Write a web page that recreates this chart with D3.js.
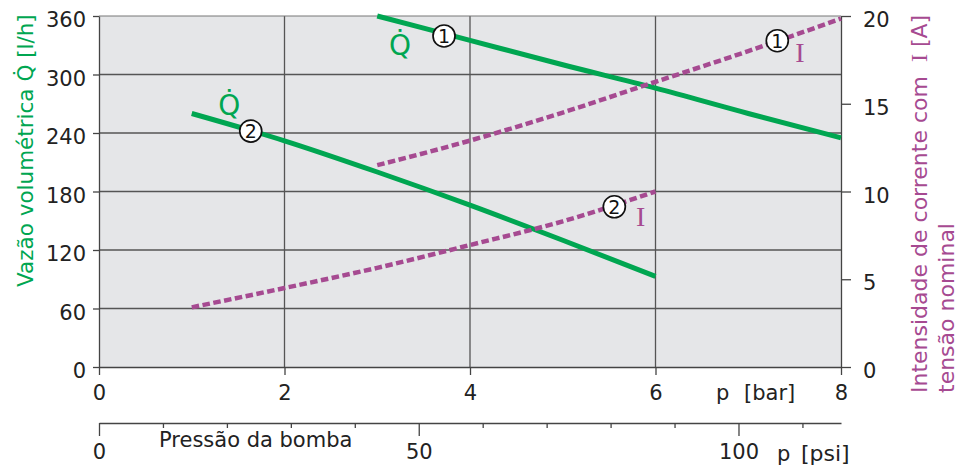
<!DOCTYPE html>
<html><head><meta charset="utf-8">
<script src="https://cdn.jsdelivr.net/npm/d3@7"></script>
<style>
html,body{margin:0;padding:0;background:#fff;}
svg{display:block;font-family:"DejaVu Sans",Verdana,sans-serif;}
</style></head>
<body>
<svg id="c" width="968" height="468"></svg>
<script>
// ---- data ----
const pQ1 = [3, 4, 5, 6, 7, 8];
const valQ1 = [360, 335, 310, 286, 260, 235];
const pQ2 = [1, 2, 3, 4, 5, 6];
const valQ2 = [260, 232, 200, 166, 130, 93];
const pI1 = [3, 4, 5, 6, 7, 8];
const valI1 = [11.5, 12.9, 14.5, 16.25, 18.0, 19.85];
const pI2 = [1, 2, 3, 4, 5, 6];
const valI2 = [3.4, 4.5, 5.65, 6.95, 8.3, 10.0];
const barTicks = [0, 2, 4, 6, 8];
const qTicks = [0, 60, 120, 180, 240, 300, 360];
const iTicks = [0, 5, 10, 15, 20];
const psiMajor = [0, 50, 100];
const psiMinor = [10, 20, 30, 40, 60, 70, 80, 90, 110];
const BAR_TO_PSI = 14.5038;

const GREEN = "#00a651", PURPLE = "#a64a91", GRID = "#555", AXIS = "#444";
const FS = 21;
const FF = "'DejaVu Sans', Verdana, sans-serif";

const svg = d3.select("#c");
const L = 99, R = 841, T = 16, B = 367;
const x = d3.scaleLinear().domain([0, 8]).range([L, R]);
const yQ = d3.scaleLinear().domain([0, 360]).range([B, T]);
const yI = d3.scaleLinear().domain([0, 20]).range([B, T]);
const xPsi = d3.scaleLinear().domain([0, 8 * BAR_TO_PSI]).range([L, R]);

// plot background
svg.append("rect").attr("x", L).attr("y", T).attr("width", R - L).attr("height", B - T).attr("fill", "#e5e6e8");

// grid
const g = svg.append("g");
g.selectAll("line.v").data(barTicks.filter(d => d > 0 && d < 8)).join("line")
  .attr("x1", d => x(d)).attr("x2", d => x(d)).attr("y1", T).attr("y2", B)
  .attr("stroke", GRID).attr("stroke-width", 1.3);
g.selectAll("line.h").data(qTicks.filter(d => d > 0 && d < 360)).join("line")
  .attr("x1", L).attr("x2", R).attr("y1", d => yQ(d)).attr("y2", d => yQ(d))
  .attr("stroke", GRID).attr("stroke-width", 1.3);
// top border
svg.append("line").attr("x1", L).attr("x2", R).attr("y1", T).attr("y2", T).attr("stroke", "#777").attr("stroke-width", 1);

function styleAxis(sel) {
  sel.attr("font-family", FF);
  sel.selectAll("path,line").attr("stroke", AXIS).attr("stroke-width", 1.3);
  sel.selectAll("text").attr("fill", "#222").attr("font-size", FS).attr("font-family", FF);
}

// left axis
const ax1 = svg.append("g").attr("transform", `translate(${L},0)`)
  .call(d3.axisLeft(yQ).tickValues(qTicks).tickSize(6).tickSizeOuter(0).tickPadding(7));
styleAxis(ax1); ax1.selectAll("text").attr("dy", "0.5em");

// right axis
const ax2 = svg.append("g").attr("transform", `translate(${R},0)`)
  .call(d3.axisRight(yI).tickValues(iTicks).tickSize(10).tickSizeOuter(0).tickPadding(12));
styleAxis(ax2); ax2.selectAll("text").attr("dy", "0.5em");

// bottom axis (bar)
const ax3 = svg.append("g").attr("transform", `translate(0,${B})`)
  .call(d3.axisBottom(x).tickValues(barTicks).tickSize(8).tickSizeOuter(0).tickPadding(10));
styleAxis(ax3);

// psi axis
const PSY = 423;
const ax4 = svg.append("g").attr("transform", `translate(0,${PSY})`)
  .call(d3.axisBottom(xPsi).tickValues(psiMajor).tickSize(13).tickSizeOuter(0).tickPadding(8));
styleAxis(ax4);
const ax5 = svg.append("g").attr("transform", `translate(0,${PSY})`)
  .call(d3.axisBottom(xPsi).tickValues(psiMinor).tickSize(5).tickFormat(""));
styleAxis(ax5); ax5.select("path").remove();

// axis unit labels
function txt(s, px, py, opts = {}) {
  return svg.append("text").attr("x", px).attr("y", py).text(s)
    .attr("font-size", opts.fs || FS).attr("fill", opts.fill || "#222")
    .attr("text-anchor", opts.anchor || "start")
    .attr("font-family", opts.ff || FF);
}
txt("p", 716, 400); txt("[bar]", 744, 400);
txt("p", 777, 461); txt("[psi]", 801, 461, { fs: 22 });
txt("Pressão da bomba", 159, 447);

// rotated axis titles
svg.append("text").attr("transform", "translate(33,287) rotate(-90)")
  .attr("font-size", 21.5).attr("font-family", FF).attr("fill", GREEN).text("Vazão volumétrica Q\u0307 [l/h]");
const rt = svg.append("text").attr("transform", "translate(927,393) rotate(-90)")
  .attr("font-size", 22).attr("font-family", FF).attr("fill", PURPLE).attr("style", "white-space:pre");
rt.append("tspan").text("Intensidade de corrente com  ");
rt.append("tspan").attr("font-family", "'Liberation Serif', 'DejaVu Serif', serif").attr("font-size", 24).text("I");
rt.append("tspan").text(" [A]");
svg.append("text").attr("transform", "translate(954,393) rotate(-90)")
  .attr("font-size", 22).attr("font-family", FF).attr("fill", PURPLE).text("tensão nominal");

// curves
const lineQ = (px, vals) => d3.line().x((d, i) => x(px[i])).y(d => yQ(d)).curve(d3.curveMonotoneX)(vals);
const lineI = (px, vals) => d3.line().x((d, i) => x(px[i])).y(d => yI(d)).curve(d3.curveMonotoneX)(vals);

svg.append("path").attr("d", lineQ(pQ1, valQ1)).attr("fill", "none").attr("stroke", GREEN).attr("stroke-width", 5);
svg.append("path").attr("d", lineQ(pQ2, valQ2)).attr("fill", "none").attr("stroke", GREEN).attr("stroke-width", 5);
svg.append("path").attr("d", lineI(pI1, valI1)).attr("fill", "none").attr("stroke", PURPLE).attr("stroke-width", 4.5).attr("stroke-dasharray", "7.5,3.5");
svg.append("path").attr("d", lineI(pI2, valI2)).attr("fill", "none").attr("stroke", PURPLE).attr("stroke-width", 4.5).attr("stroke-dasharray", "7.5,3.5");

// circled markers
const markers = [
  { p: 3.72, v: yQ(339.5), n: "1" },
  { p: 1.636, v: yQ(242), n: "2" },
  { p: 5.556, v: yI(9.13), n: "2" },
  { p: 7.313, v: yI(18.59), n: "1" }
];
const mg = svg.append("g").selectAll("g").data(markers).join("g")
  .attr("transform", d => `translate(${x(d.p)},${d.v})`);
mg.append("circle").attr("r", 11).attr("fill", "#fff").attr("stroke", "#111").attr("stroke-width", 1.7);
mg.append("text").attr("text-anchor", "middle").attr("dy", "0.37em").attr("font-size", 19).attr("font-family", FF).attr("fill", "#111").text(d => d.n);

// curve labels
const qLabels = [{ p: 3.245, v: 320 }, { p: 1.405, v: 258 }];
svg.append("g").selectAll("text").data(qLabels).join("text")
  .attr("x", d => x(d.p)).attr("y", d => yQ(d.v)).attr("text-anchor", "middle")
  .attr("font-size", 28).attr("font-family", FF).attr("fill", GREEN).text("Q\u0307");
const iLabels = [{ p: 5.84, v: 8.03 }, { p: 7.558, v: 17.4 }];
svg.append("g").selectAll("text").data(iLabels).join("text")
  .attr("x", d => x(d.p)).attr("y", d => yI(d.v)).attr("text-anchor", "middle")
  .attr("font-family", "'Liberation Serif', 'DejaVu Serif', serif")
  .attr("font-size", 28).attr("fill", PURPLE).text("I");
</script>
</body></html>
